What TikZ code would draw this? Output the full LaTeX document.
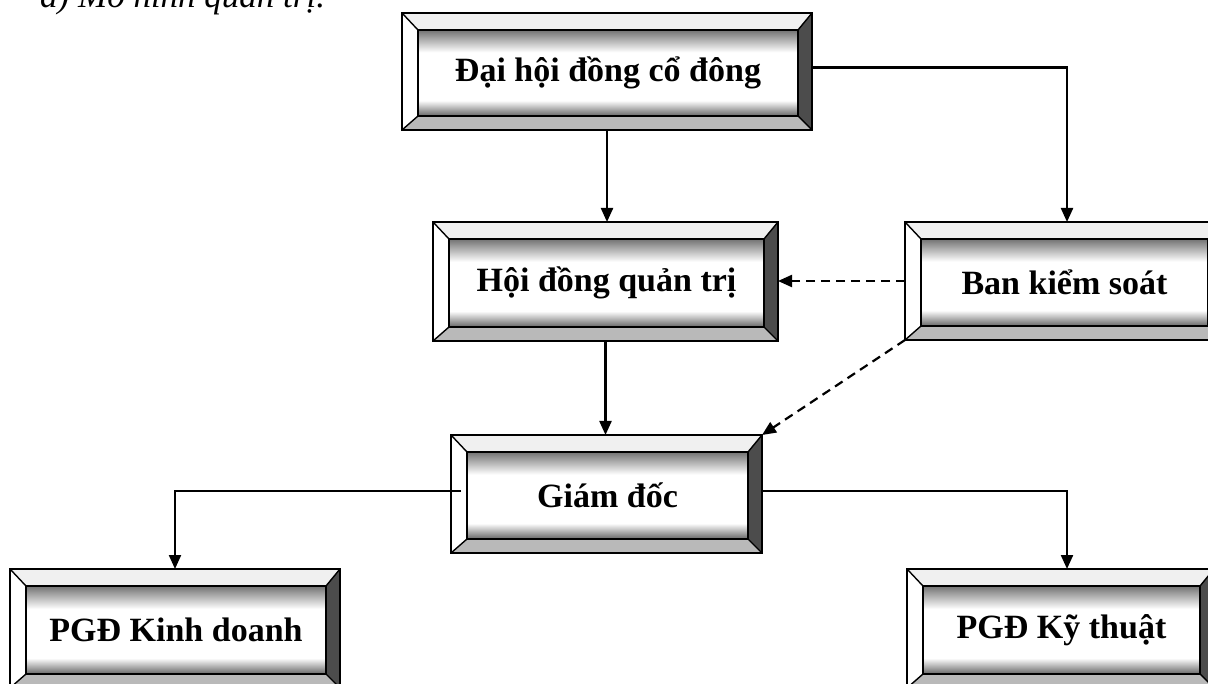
\documentclass[tikz,border=0pt]{standalone}
\usepackage{fontspec}
\setmainfont{Liberation Serif}
\usetikzlibrary{arrows.meta,calc}
\pgfdeclareverticalshading{bevface}{100bp}{color(0bp)=(black!60); color(25bp)=(black!60); color(34bp)=(white); color(62bp)=(white); color(75bp)=(black!55); color(100bp)=(black!55)}
\tikzset{
  boxnode/.style={draw=none,inner sep=0pt,outer sep=0pt,rectangle},
  bevline/.style={draw=black,line width=1.4pt,line join=miter},
  boxtext/.style={font=\bfseries\fontsize{34}{36}\selectfont,inner sep=0pt},
  arr/.style={line width=2.2pt,-{Triangle[length=14pt,width=12pt]}},
  darr/.style={line width=2.2pt,dash pattern=on 9pt off 6pt,-{Triangle[length=14pt,width=12pt]}},
}
% #1 name, #2 x1, #3 y1, #4 x2, #5 y2, #6 text
\newcommand{\bevbox}[6]{%
  \node[boxnode,minimum width={(#4-#2)*1pt},minimum height={(#5-#3)*1pt}] (#1) at ({(#2+#4)/2},{(#3+#5)/2}) {};
  \fill[gray!12] (#2,#3) -- (#4,#3) -- ({#4-14},{#3+17}) -- ({#2+16},{#3+17}) -- cycle;
  \fill[white] (#2,#3) -- ({#2+16},{#3+17}) -- ({#2+16},{#5-14}) -- (#2,#5) -- cycle;
  \fill[black!70] (#4,#3) -- (#4,#5) -- ({#4-14},{#5-14}) -- ({#4-14},{#3+17}) -- cycle;
  \fill[gray!55] (#2,#5) -- (#4,#5) -- ({#4-14},{#5-14}) -- ({#2+16},{#5-14}) -- cycle;
  \shade[shading=bevface] ({#2+16},{#3+17}) rectangle ({#4-14},{#5-14});
  \draw[bevline] ({#2+16},{#3+17}) rectangle ({#4-14},{#5-14});
  \draw[bevline] (#2,#3) -- ({#2+16},{#3+17}) (#4,#3) -- ({#4-14},{#3+17})
                 (#2,#5) -- ({#2+16},{#5-14}) (#4,#5) -- ({#4-14},{#5-14});
  \draw[black,line width=2.2pt] (#2,#3) rectangle (#4,#5);
  \node[boxtext] (#1-t) at ({(#2+16+#4-14)/2},{(#3+17+#5-14)/2}) {#6};
}
\begin{document}
\begin{tikzpicture}[x=1pt,y=-1pt]
\useasboundingbox (0,0) rectangle (1208,684);
\clip (0,0) rectangle (1208,684);
\fill[white] (0,0) rectangle (1208,684);
\node[anchor=base west,font=\itshape\fontsize{35}{37}\selectfont,inner sep=0pt] (cap) at (40,8) {a) Mô hình quản trị.};
\bevbox{dhdcd}{402}{13}{812}{130}{Đại hội đồng cổ đông}
\bevbox{hdqt}{433}{222}{778}{341}{Hội đồng quản trị}
\bevbox{bks}{905}{222}{1222}{340}{Ban kiểm soát}
\bevbox{gd}{451}{435}{762}{553}{Giám đốc}
\bevbox{pkd}{10}{569}{340}{688}{PGĐ Kinh doanh}
\bevbox{pkt}{907}{569}{1214}{688}{PGĐ Kỹ thuật}
\coordinate (bksin) at (1067,222);
\coordinate (pktin) at (1067,569);
\draw[arr] (dhdcd.south) -- (dhdcd.south |- hdqt.north);
\draw[arr] ($(dhdcd.east)+(0,-4)$) -| (bksin);
\draw[darr] (bks.west) -- (bks.west -| hdqt.east);
\draw[darr] (bks.south west) -- (gd.north east);
\draw[arr] (hdqt.south) -- (hdqt.south |- gd.north);
\draw[arr] ($(gd.west)+(10,-3)$) -| (pkd.north);
\draw[arr] ($(gd.east)+(0,-3)$) -| (pktin);
\end{tikzpicture}
\end{document}
